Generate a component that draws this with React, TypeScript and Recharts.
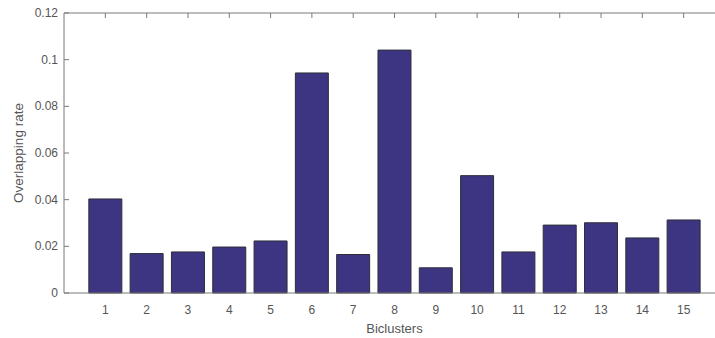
import { BarChart, Bar, XAxis, YAxis } from 'recharts';

const biclusters = ['1', '2', '3', '4', '5', '6', '7', '8', '9', '10', '11', '12', '13', '14', '15'];
const overlappingRate = [
  0.0403, 0.0169, 0.0176, 0.0197, 0.0223, 0.0943, 0.0165, 0.1041, 0.0108, 0.0503, 0.0176, 0.0291,
  0.0301, 0.0236, 0.0313,
];
const yTicks = [0, 0.02, 0.04, 0.06, 0.08, 0.1, 0.12];

const data = biclusters.map((name, i) => ({ name, rate: overlappingRate[i] }));

const AXIS_COLOR = '#7a7a7a';
const TEXT_COLOR = '#555555';
const FONT = 'Liberation Sans, Arial, sans-serif';

/** 왼쪽 축: 안쪽으로 향하는 눈금 + 라벨 */
function LeftTick(props: any) {
  const { x, y, payload } = props;
  return (
    <g>
      <line x1={x + 6} y1={y} x2={x + 11} y2={y} stroke={AXIS_COLOR} strokeWidth={1} />
      <text x={x} y={y} dy={4} textAnchor="end" fill={TEXT_COLOR} fontSize={12} fontFamily={FONT}>
        {String(payload.value)}
      </text>
    </g>
  );
}

/** 위쪽 축: 라벨 없이 아래로 향하는 눈금만 */
function TopTick(props: any) {
  const { x, y } = props;
  return <line x1={x} y1={y} x2={x} y2={y + 5} stroke={AXIS_COLOR} strokeWidth={1} />;
}

export default function App() {
  return (
    <div style={{ position: 'absolute', left: 0, top: 0, width: 715, height: 338, overflow: 'hidden', background: '#fff' }}>
      <BarChart
        width={735}
        height={338}
        data={data}
        margin={{ top: 12, right: 10, left: 0, bottom: 5 }}
        barCategoryGap="10%"
      >
        <XAxis
          xAxisId="top"
          dataKey="name"
          orientation="top"
          height={1}
          padding={{ left: 20.7, right: 20.7 }}
          stroke={AXIS_COLOR}
          tickLine={false}
          tickSize={0}
          tickMargin={0}
          tick={<TopTick />}
          interval={0}
        />
        <XAxis
          dataKey="name"
          height={40}
          padding={{ left: 20.7, right: 20.7 }}
          stroke={AXIS_COLOR}
          tickLine={false}
          tickMargin={6}
          interval={0}
          tick={{ fill: TEXT_COLOR, fontSize: 12, fontFamily: FONT }}
          label={{
            value: 'Biclusters',
            position: 'insideBottom',
            offset: 0,
            fill: TEXT_COLOR,
            fontSize: 13,
            fontFamily: FONT,
          }}
        />
        <YAxis
          width={64}
          domain={[0, 0.12]}
          ticks={yTicks}
          stroke={AXIS_COLOR}
          tickLine={false}
          tickSize={0}
          tickMargin={6}
          tick={<LeftTick />}
          label={{
            value: 'Overlapping rate',
            angle: -90,
            position: 'center',
            dx: -14,
            fill: TEXT_COLOR,
            fontSize: 13.5,
            fontFamily: FONT,
          }}
        />
        <Bar dataKey="rate" fill="#3d3582" stroke="#2e2e3a" strokeWidth={1} isAnimationActive={false} />
      </BarChart>
    </div>
  );
}
